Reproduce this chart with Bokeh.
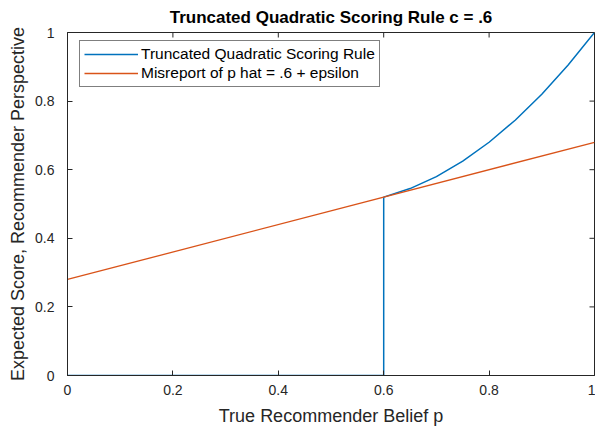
import math
from bokeh.plotting import figure
from bokeh.models import Legend, LegendItem, FixedTicker, Range1d
from bokeh.embed import file_html
from bokeh.resources import INLINE

# Data
belief_p = [0.0, 0.6, 0.6, 0.65, 0.7, 0.75, 0.8, 0.85, 0.9, 0.95, 1.0]
truncated_score = [0.0, 0.0, 0.52, 0.545, 0.58, 0.625, 0.68, 0.745, 0.82, 0.905, 1.0]
misreport_p = [0.0, 1.0]
misreport_score = [0.28, 0.68]
tick_values = [0, 0.2, 0.4, 0.6, 0.8, 1.0]
tick_labels = {0: "0", 0.2: "0.2", 0.4: "0.4", 0.6: "0.6", 0.8: "0.8", 1.0: "1"}
x_lo, x_hi = 0, 1
y_lo, y_hi = 0, 1

FONT = "Liberation Sans"
AX = "#262626"

p = figure(width=595, height=429, output_backend="svg", toolbar_location=None,
           x_range=Range1d(x_lo, x_hi), y_range=Range1d(y_lo, y_hi),
           min_border_left=67, min_border_right=1, min_border_top=31, min_border_bottom=54)

p.title.text = "Truncated Quadratic Scoring Rule c = .6"
p.title.align = "center"
p.title.text_font = FONT
p.title.text_font_size = "17px"
p.title.text_font_style = "bold"
p.title.text_color = "black"
p.title.standoff = 11

p.grid.visible = False
p.outline_line_color = AX
p.outline_line_width = 1

r1 = p.line(belief_p, truncated_score, line_color="#0072BD", line_width=1.5)
r2 = p.line(misreport_p, misreport_score, line_color="#D95319", line_width=1.3)

for ax in (p.xaxis[0], p.yaxis[0]):
    ax.ticker = FixedTicker(ticks=tick_values)
    ax.major_label_overrides = tick_labels
    ax.major_tick_in = 5
    ax.major_tick_out = 0
    ax.minor_tick_line_color = None
    ax.axis_line_color = AX
    ax.major_tick_line_color = AX
    ax.major_label_text_font = FONT
    ax.major_label_text_font_size = "14px"
    ax.major_label_text_color = AX
    ax.axis_label_text_font = FONT
    ax.axis_label_text_font_size = "18px"
    ax.axis_label_text_font_style = "normal"
    ax.axis_label_text_color = AX

p.xaxis.axis_label = "True Recommender Belief p"
p.yaxis.axis_label = "Expected Score, Recommender Perspective"
p.xaxis.major_label_standoff = 9
p.yaxis.major_label_standoff = 13
p.xaxis.axis_label_standoff = 8
p.yaxis.axis_label_standoff = 4

# ticks on the top and right edges of the box
p.ray(x=tick_values, y=[y_hi] * len(tick_values), length=5, length_units="screen",
      angle=-math.pi / 2, line_color=AX, line_width=1)
p.ray(x=[x_hi] * len(tick_values), y=tick_values, length=5, length_units="screen",
      angle=math.pi, line_color=AX, line_width=1)

legend = Legend(items=[LegendItem(label="Truncated Quadratic Scoring Rule", renderers=[r1]),
                       LegendItem(label="Misreport of p hat = .6 + epsilon", renderers=[r2])],
                location=(12, 288), label_text_font=FONT, label_text_font_size="15.5px",
                label_text_color="black",
                border_line_color="black", border_line_width=1, glyph_width=54,
                glyph_height=14, label_height=14, spacing=1, padding=4, margin=0,
                label_standoff=3, background_fill_alpha=1)
p.add_layout(legend, "center")

open("out.html", "w").write(file_html(p, INLINE))
